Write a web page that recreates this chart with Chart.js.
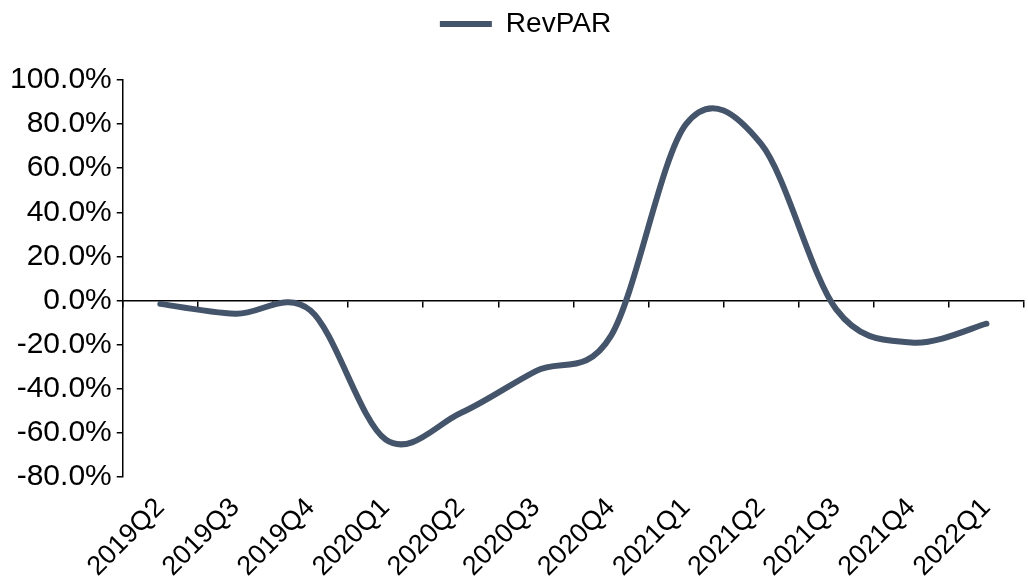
<!DOCTYPE html>
<html>
<head>
<meta charset="utf-8">
<script src="https://cdn.jsdelivr.net/npm/chart.js@4/dist/chart.umd.min.js"></script>
<style>
  html, body { margin: 0; padding: 0; background: #ffffff; }
  #wrap { width: 1028px; height: 583px; position: relative; }
</style>
</head>
<body>
<div id="wrap"><canvas id="c"></canvas></div>
<script>
const categories = ['2019Q2','2019Q3','2019Q4','2020Q1','2020Q2','2020Q3','2020Q4','2021Q1','2021Q2','2021Q3','2021Q4','2022Q1'];
const seriesName = 'RevPAR';
const revparValues = [-1.5, -6, -4.5, -63, -51, -32, -16, 80, 71, -4, -19, -10.5];
const yTicks = [-80, -60, -40, -20, 0, 20, 40, 60, 80, 100];

const FAMILY = "'Liberation Sans', Arial, sans-serif";
const LINE_COLOR = '#44546A';

// Excel-style smoothing (uniform Catmull-Rom) computed from the scale-placed points
const excelSmooth = {
  id: 'excelSmooth',
  beforeDatasetDraw(chart, args) {
    const meta = args.meta;
    const pts = meta.data;
    const n = pts.length;
    for (let i = 0; i < n; i++) {
      const p = pts[i];
      const prev = pts[Math.max(i - 1, 0)];
      const next = pts[Math.min(i + 1, n - 1)];
      const dx = (next.x - prev.x) / 6;
      const dy = (next.y - prev.y) / 6;
      p.cp1x = p.x - dx; p.cp1y = p.y - dy;
      p.cp2x = p.x + dx; p.cp2y = p.y + dy;
    }
    meta.dataset._pointsUpdated = true;
  }
};

const legendGap = {
  id: 'legendGap',
  beforeInit(chart) {
    const leg = chart.legend;
    const origFit = leg.fit;
    leg.fit = function () {
      origFit.call(this);
      this.height += 32;
    };
    const origDraw = leg.draw;
    leg.draw = function () {
      const ctx = this.ctx;
      ctx.save();
      ctx.translate(11, 0);
      origDraw.call(this);
      ctx.restore();
    };
  }
};

new Chart(document.getElementById('c'), {
  type: 'line',
  data: {
    labels: categories,
    datasets: [{
      label: seriesName,
      data: revparValues,
      borderColor: LINE_COLOR,
      backgroundColor: LINE_COLOR,
      borderWidth: 6,
      borderCapStyle: 'round',
      borderJoinStyle: 'round',
      pointRadius: 0,
      pointHoverRadius: 0,
      tension: 0.4,
      fill: false
    }]
  },
  options: {
    responsive: true,
    maintainAspectRatio: false,
    animation: false,
    layout: { padding: { left: 5, right: 4, top: 0, bottom: 0 } },
    plugins: {
      legend: {
        display: true,
        position: 'top',
        labels: {
          font: { family: FAMILY, size: 28 },
          color: '#000',
          usePointStyle: true,
          pointStyle: 'line',
          pointStyleWidth: 52,
          padding: 10
        }
      },
      tooltip: { enabled: false }
    },
    scales: {
      x: {
        offset: true,
        grid: { display: false, drawTicks: false },
        border: { display: false },
        afterFit(scale) { scale.height = 106; },
        ticks: {
          font: { family: FAMILY, size: 27 },
          color: '#000',
          maxRotation: 45,
          minRotation: 45,
          autoSkip: false,
          padding: 15
        }
      },
      x2: {
        type: 'category',
        axis: 'x',
        labels: categories,
        position: { y: 0 },
        offset: true,
        grid: { offset: true, drawOnChartArea: false, drawTicks: true, tickLength: 6, color: '#000', lineWidth: 1.5 },
        border: { display: true, color: '#000', width: 1.5 },
        ticks: { display: false }
      },
      y: {
        min: -80,
        max: 100,
        afterBuildTicks(scale) { scale.ticks = yTicks.map(v => ({ value: v })); },
        ticks: {
          font: { family: FAMILY, size: 30 },
          color: '#000',
          padding: 5,
          callback: v => Number(v).toFixed(1) + '%'
        },
        grid: { display: true, drawOnChartArea: false, drawTicks: true, tickLength: 6, color: '#000', lineWidth: 1.5 },
        border: { display: true, color: '#000', width: 1.5 }
      }
    }
  },
  plugins: [excelSmooth, legendGap]
});
</script>
</body>
</html>
